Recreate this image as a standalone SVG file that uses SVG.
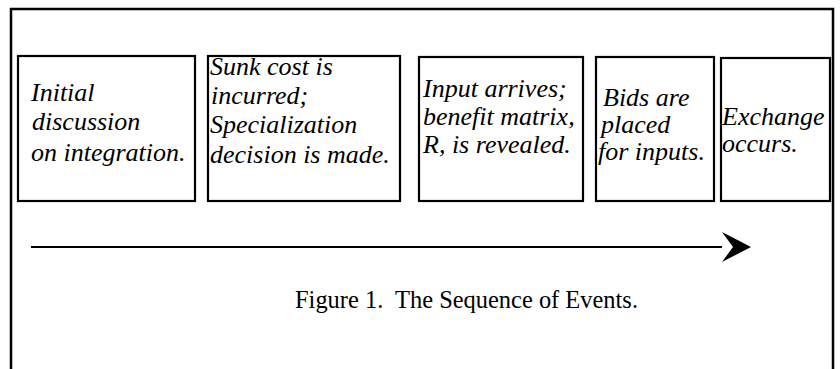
<svg xmlns="http://www.w3.org/2000/svg" width="840" height="369" viewBox="0 0 840 369">
<style>
.frame{fill:none;stroke:#000;stroke-width:2.5}
.box{fill:#fff;stroke:#000;stroke-width:2.2}
.lbl{font-family:"Liberation Serif","Times New Roman",serif;font-style:italic;font-size:26px;fill:#000}
.cap{font-family:"Liberation Serif","Times New Roman",serif;font-size:26px;fill:#000;white-space:pre}
.conn{stroke:#000;stroke-width:2.2;fill:none}
</style>
<defs>
<marker id="ah" markerUnits="userSpaceOnUse" markerWidth="40" markerHeight="40" refX="0" refY="15" orient="auto" viewBox="0 0 40 30">
<path d="M0,0 L29,15 L0,30 L11,15 Z" fill="#000"/>
</marker>
</defs>
<rect width="840" height="369" fill="#fff"/>
<path class="frame" d="M11,369 L11,9 L833,9 L833,369"/>
<g id="n1"><rect class="box" x="18" y="56" width="177" height="145"/>
<text class="lbl"><tspan x="31" y="101">Initial</tspan><tspan x="32" y="130">discussion</tspan><tspan x="31" y="161">on integration.</tspan></text></g>
<g id="n2"><rect class="box" x="208" y="56" width="192" height="145"/>
<text class="lbl"><tspan x="210" y="75">Sunk cost is</tspan><tspan x="211" y="104">incurred;</tspan><tspan x="210" y="133">Specialization</tspan><tspan x="210" y="163">decision is made.</tspan></text></g>
<g id="n3"><rect class="box" x="419" y="57" width="164" height="144"/>
<text class="lbl"><tspan x="423" y="97">Input arrives;</tspan><tspan x="423" y="125">benefit matrix,</tspan><tspan x="423" y="153">R, is revealed.</tspan></text></g>
<g id="n4"><rect class="box" x="596" y="57" width="118" height="144"/>
<text class="lbl"><tspan x="603" y="106">Bids are</tspan><tspan x="601" y="133">placed</tspan><tspan x="598" y="160">for inputs.</tspan></text></g>
<g id="n5"><rect class="box" x="721" y="58" width="109" height="143"/>
<text class="lbl"><tspan x="722" y="125">Exchange</tspan><tspan x="722" y="152">occurs.</tspan></text></g>
<g id="connectors">
<line class="conn" x1="31" y1="247" x2="722" y2="247" marker-end="url(#ah)"/>
</g>
<text class="cap" x="295" y="308" textLength="343" lengthAdjust="spacingAndGlyphs" xml:space="preserve">Figure 1.  The Sequence of Events.</text>
</svg>
